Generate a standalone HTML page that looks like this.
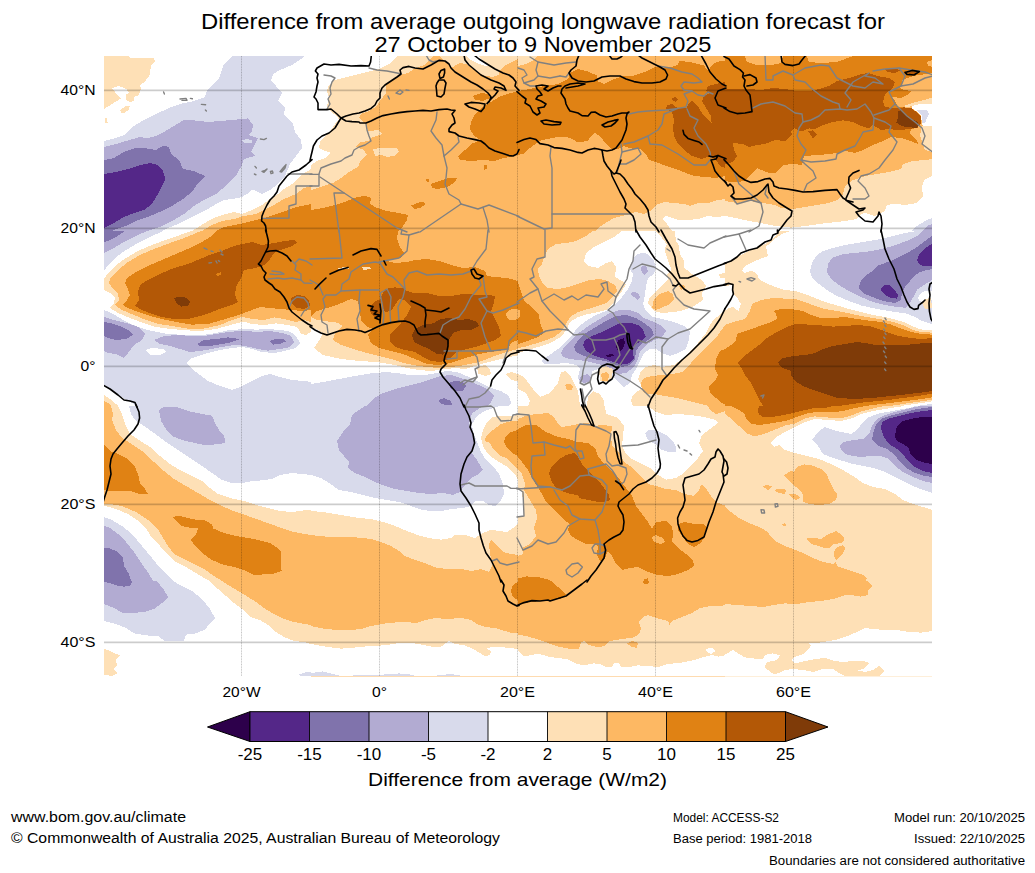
<!DOCTYPE html><html><head><meta charset="utf-8"><title>OLR anomaly forecast</title>
<style>
html,body{margin:0;padding:0;background:#fff;}
body{width:1035px;height:873px;overflow:hidden;position:relative;font-family:"Liberation Sans",sans-serif;}
svg{position:absolute;left:0;top:0;}
text{font-family:"Liberation Sans",sans-serif;fill:#000;}
</style></head><body>
<svg width="1035" height="873" viewBox="0 0 1035 873">
<defs><clipPath id="mapclip"><rect x="104" y="56" width="828" height="620.5"/></clipPath>
<clipPath id="t00"><rect x="-2" y="-2" width="1039" height="879"/></clipPath>
<clipPath id="t01"><rect x="-2" y="-2" width="1039" height="879"/></clipPath>
<clipPath id="t02"><rect x="-2" y="-2" width="1039" height="879"/></clipPath>
<clipPath id="t03"><rect x="-2" y="-2" width="1039" height="879"/></clipPath>
<clipPath id="t10"><rect x="-2" y="-2" width="1039" height="879"/></clipPath>
<clipPath id="t11"><rect x="-2" y="-2" width="1039" height="879"/></clipPath>
<clipPath id="t12"><rect x="-2" y="-2" width="1039" height="879"/></clipPath>
<clipPath id="t13"><rect x="-2" y="-2" width="1039" height="879"/></clipPath>
<clipPath id="t20"><rect x="-2" y="-2" width="1039" height="879"/></clipPath>
<clipPath id="t21"><rect x="-2" y="-2" width="1039" height="879"/></clipPath>
<clipPath id="t22"><rect x="-2" y="-2" width="1039" height="879"/></clipPath>
<clipPath id="t23"><rect x="-2" y="-2" width="1039" height="879"/></clipPath>
<clipPath id="t30"><rect x="-2" y="-2" width="1039" height="879"/></clipPath>
<clipPath id="t31"><rect x="-2" y="-2" width="1039" height="879"/></clipPath>
<clipPath id="t32"><rect x="-2" y="-2" width="1039" height="879"/></clipPath>
<clipPath id="t33"><rect x="-2" y="-2" width="1039" height="879"/></clipPath>
</defs>
<rect x="0" y="0" width="1035" height="873" fill="#ffffff"/>
<g clip-path="url(#mapclip)" shape-rendering="crispEdges">
<rect x="104" y="56" width="207" height="175" fill="#ffffff"/>
<rect x="311" y="56" width="207" height="175" fill="#fdb863"/>
<rect x="518" y="56" width="207" height="175" fill="#fdb863"/>
<rect x="725" y="56" width="207" height="175" fill="#fdb863"/>
<rect x="104" y="231" width="207" height="175" fill="#ffffff"/>
<rect x="311" y="231" width="207" height="175" fill="#fdb863"/>
<rect x="518" y="231" width="207" height="175" fill="#ffffff"/>
<rect x="725" y="231" width="207" height="175" fill="#ffffff"/>
<rect x="104" y="406" width="207" height="175" fill="#ffffff"/>
<rect x="311" y="406" width="207" height="175" fill="#ffffff"/>
<rect x="518" y="406" width="207" height="175" fill="#fdb863"/>
<rect x="725" y="406" width="207" height="175" fill="#fee0b6"/>
<rect x="104" y="581" width="207" height="175" fill="#ffffff"/>
<rect x="311" y="581" width="207" height="175" fill="#fdb863"/>
<rect x="518" y="581" width="207" height="175" fill="#fdb863"/>
<rect x="725" y="581" width="207" height="175" fill="#fee0b6"/>
<svg x="104" y="56" width="207" height="175" viewBox="0 0 1035 875" preserveAspectRatio="none" overflow="hidden">
<path d="M0 0 L125 0 L130 8 L250 10 L255 25 L235 50 L228 95 L205 128 L180 145 L185 165 L175 195 L150 205 L150 222 L128 232 L108 215 L108 195 L125 185 L112 165 L75 150 L40 160 L55 180 L85 212 L40 240 L0 265Z" fill="#fee0b6"/>
<path d="M82 270 L105 252 L128 252 L125 268 L100 287 L85 285Z" fill="#fee0b6"/>
<path d="M5 312 L15 312 L18 335 L8 338Z" fill="#fee0b6"/>
<path d="M0 425 L60 410 L100 395 L150 350 L200 320 L260 290 L330 258 L400 235 L450 225 L505 205 L515 175 L545 140 L575 110 L600 40 L640 0 L1000 0 L985 15 L940 45 L880 70 L845 90 L835 125 L860 150 L890 185 L870 225 L905 260 L900 290 L945 340 L955 380 L985 420 L990 460 L960 500 L930 540 L905 600 L870 640 L830 670 L790 690 L760 675 L740 668 L715 690 L690 705 L640 715 L600 720 L560 740 L520 765 L470 790 L420 815 L370 840 L320 860 L290 875 L0 875Z" fill="#d8daeb"/>
<path d="M0 455 L60 440 L110 425 L180 405 L215 412 L260 400 L300 380 L340 355 L400 320 L450 322 L520 330 L580 325 L640 320 L720 312 L745 345 L740 375 L720 395 L770 410 L750 450 L735 480 L755 500 L700 515 L690 545 L665 590 L620 640 L560 690 L500 720 L450 750 L400 790 L350 820 L290 850 L220 875 L0 875Z" fill="#b2abd2"/>
<path d="M692 422 L715 415 L742 422 L738 435 L705 437Z" fill="#d8daeb"/>
<path d="M0 520 L50 510 L100 480 L150 462 L200 460 L260 470 L295 448 L325 455 L335 490 L375 520 L395 565 L450 575 L505 600 L470 635 L440 680 L395 715 L340 750 L290 775 L230 800 L170 820 L120 845 L70 862 L40 875 L0 875Z" fill="#8073ac"/>
<path d="M0 590 L60 580 L120 565 L180 545 L230 535 L270 545 L295 575 L308 615 L290 650 L270 690 L240 740 L200 770 L150 785 L100 805 L50 835 L0 860Z" fill="#542788"/>
<path d="M440 875 L480 850 L520 825 L560 805 L610 790 L650 780 L690 790 L740 770 L790 745 L830 715 L870 690 L900 665 L940 640 L980 600 L1035 565 L1035 875Z" fill="#fee0b6"/>
<path d="M490 875 L540 845 L590 825 L650 815 L700 800 L760 790 L800 770 L850 745 L900 715 L960 690 L1000 660 L1035 650 L1035 875Z" fill="#fdb863"/>
<path d="M560 875 L600 855 L650 845 L700 835 L760 820 L800 810 L860 790 L920 770 L960 755 L1035 740 L1035 875Z" fill="#e08214"/>
</svg>
<svg x="311" y="56" width="207" height="175" viewBox="0 0 1035 875" preserveAspectRatio="none" overflow="hidden">
<path d="M0 0 L614 0 L606 9 L588 26 L571 43 L536 57 L514 65 L488 83 L454 93 L400 120 L375 150 L375 185 L345 225 L330 250 L290 275 L250 290 L240 310 L275 340 L285 375 L340 370 L355 390 L300 410 L290 425 L245 430 L225 455 L265 470 L280 495 L250 520 L235 555 L190 580 L150 610 L110 635 L60 650 L0 670Z" fill="#fee0b6"/>
<path d="M0 0 L430 0 L400 35 L340 65 L260 85 L180 105 L120 120 L90 145 L80 175 L90 210 L80 250 L95 275 L130 300 L140 318 L120 340 L100 370 L70 400 L45 430 L40 460 L70 475 L100 485 L70 510 L30 525 L0 545Z" fill="#ffffff"/>
<path d="M310 465 L370 458 L430 462 L440 480 L420 498 L385 505 L350 495 L320 500Z" fill="#fee0b6"/>
<path d="M645 0 L655 14 L677 30 L706 57 L728 43 L749 35 L779 41 L799 58 L833 81 L867 98 L907 105 L938 95 L944 74 L961 54 L982 41 L1009 27 L1035 14 L1035 0Z" fill="#fee0b6"/>
<path d="M779 0 L799 20 L826 34 L860 47 L887 51 L873 34 L853 14 L839 0Z" fill="#ffffff"/>
<path d="M1035 175 L1000 185 L950 200 L900 230 L860 255 L820 290 L800 330 L795 365 L815 400 L850 420 L800 440 L770 470 L735 500 L745 520 L800 525 L860 520 L920 525 L960 510 L1000 505 L1035 490Z" fill="#e08214"/>
<path d="M810 200 L850 185 L885 190 L895 210 L860 225 L820 218Z" fill="#e08214"/>
<path d="M862 548 L878 545 L882 565 L865 568Z" fill="#e08214"/>
<path d="M600 640 L640 625 L690 610 L730 612 L715 635 L680 655 L630 665 L605 658Z" fill="#e08214"/>
<path d="M575 618 L590 615 L592 628 L578 628Z" fill="#e08214"/>
<path d="M500 748 L530 735 L565 728 L570 745 L545 760 L515 765Z" fill="#e08214"/>
<path d="M0 770 L60 760 L120 745 L180 725 L230 705 L270 700 L300 710 L295 740 L330 760 L380 775 L440 785 L485 795 L480 820 L460 850 L440 875 L0 875Z" fill="#e08214"/>
</svg>
<svg x="518" y="56" width="207" height="175" viewBox="0 0 1035 875" preserveAspectRatio="none" overflow="hidden">
<path d="M0 0 L95 0 L80 20 L40 40 L0 50Z" fill="#fee0b6"/>
<path d="M1035 715 L1000 720 L950 735 L900 735 L860 750 L830 740 L780 735 L730 730 L690 745 L670 770 L630 790 L590 780 L540 795 L480 810 L430 840 L400 860 L385 875 L1035 875Z" fill="#fee0b6"/>
<path d="M1035 800 L990 805 L950 800 L900 815 L850 820 L800 820 L760 805 L735 800 L725 815 L745 840 L770 875 L1035 875Z" fill="#ffffff"/>
<path d="M0 175 L60 165 L130 150 L200 140 L250 115 L262 85 L300 65 L350 78 L395 98 L402 128 L430 140 L470 120 L520 103 L580 98 L640 78 L672 60 L700 52 L740 62 L800 45 L805 25 L860 30 L930 48 L950 75 L975 40 L1000 28 L1035 25 L1035 600 L990 610 L940 605 L880 600 L840 585 L790 565 L740 550 L690 530 L655 520 L640 490 L610 465 L560 462 L530 450 L500 465 L470 470 L440 440 L410 400 L385 385 L360 405 L350 425 L300 432 L270 415 L240 405 L200 405 L170 410 L120 420 L95 435 L60 460 L30 488 L0 495Z" fill="#e08214"/>
<path d="M740 262 L745 248 L770 240 L800 262 L845 262 L850 240 L870 225 L895 245 L920 285 L945 315 L968 335 L965 300 L940 260 L920 225 L930 200 L960 185 L940 175 L950 150 L990 140 L1035 130 L1035 560 L1010 550 L990 520 L960 500 L920 515 L870 500 L830 470 L800 440 L780 400 L775 360 L780 320 L770 280Z" fill="#b35806"/>
<path d="M768 215 L785 205 L800 215 L788 232Z" fill="#b35806"/>
</svg>
<svg x="725" y="56" width="207" height="175" viewBox="0 0 1035 875" preserveAspectRatio="none" overflow="hidden">
<path d="M0 725 L60 735 L120 725 L190 735 L250 745 L280 760 L340 765 L400 755 L460 745 L520 735 L560 720 L590 690 L600 650 L640 620 L700 600 L760 590 L820 580 L880 565 L890 540 L940 525 L1000 520 L1035 515 L1035 875 L0 875Z" fill="#fee0b6"/>
<path d="M0 800 L60 812 L120 825 L180 835 L250 850 L330 858 L400 850 L470 840 L540 832 L600 825 L660 815 L680 790 L700 785 L750 800 L800 775 L810 745 L850 738 L900 745 L960 735 L990 700 L985 655 L995 620 L1035 600 L1035 875 L0 875Z" fill="#ffffff"/>
<path d="M930 875 L960 850 L1000 825 L1035 810 L1035 875Z" fill="#d8daeb"/>
<path d="M985 875 L1010 850 L1035 840 L1035 875Z" fill="#b2abd2"/>
<path d="M1035 209 L972 226 L933 236 L895 250 L904 257 L938 250 L981 238 L1035 241Z" fill="#fee0b6"/>
<path d="M1035 241 L981 238 L938 250 L933 260 L962 279 L981 298 L984 337 L991 351 L1035 356Z" fill="#ffffff"/>
<path d="M957 270 L1010 272 L1020 289 L1010 308 L1000 337 L986 332 L984 298Z" fill="#d8daeb"/>
<path d="M985 348 L1035 352 L1035 480 L1000 470 L985 430 L975 395Z" fill="#fee0b6"/>
<path d="M0 0 L100 0 L110 30 L160 45 L230 45 L280 35 L290 0 L410 0 L420 30 L480 35 L560 30 L640 0 L1035 0 L1035 82 L1000 91 L962 96 L923 106 L887 120 L885 144 L875 159 L885 166 L933 176 L914 193 L875 212 L851 205 L832 207 L851 226 L866 255 L895 257 L933 262 L962 284 L981 303 L979 337 L962 359 L933 366 L923 385 L943 404 L962 425 L965 440 L930 425 L880 410 L830 405 L790 425 L740 445 L690 470 L650 485 L600 475 L560 485 L500 492 L440 497 L395 500 L385 545 L340 540 L290 545 L250 585 L210 582 L160 560 L130 590 L100 625 L40 632 L0 625Z" fill="#e08214"/>
<path d="M1010 29 L1035 20 L1035 53 L1015 50Z" fill="#fdb863"/>
<path d="M0 165 L60 165 L120 165 L180 170 L240 160 L300 165 L360 175 L420 175 L470 165 L520 150 L560 125 L620 110 L680 90 L720 85 L760 100 L820 110 L850 130 L840 160 L800 190 L790 230 L800 255 L860 262 L895 257 L933 262 L962 284 L981 303 L979 337 L962 359 L920 365 L870 372 L820 365 L780 370 L740 345 L720 362 L680 350 L640 330 L590 322 L540 330 L490 345 L450 365 L420 362 L380 378 L345 360 L330 375 L335 395 L300 425 L250 420 L200 440 L160 445 L120 455 L90 440 L40 435 L45 470 L60 500 L40 530 L0 540Z" fill="#b35806"/>
<path d="M415 375 L440 372 L460 390 L440 412Z" fill="#b35806"/>
<path d="M800 65 L840 60 L880 72 L850 85 L810 80Z" fill="#b35806"/>
<path d="M900 80 L935 72 L970 78 L940 95Z" fill="#b35806"/>
<path d="M866 274 L885 270 L895 289 L914 308 L933 318 L962 327 L969 347 L957 359 L914 356 L885 351 L856 332 L863 313Z" fill="#7f3b08"/>
</svg>
<svg x="104" y="231" width="207" height="175" viewBox="0 0 1035 875" preserveAspectRatio="none" overflow="hidden">
<path d="M0 0 L295 0 L230 30 L170 60 L110 95 L60 130 L20 170 L0 200Z" fill="#d8daeb"/>
<path d="M0 0 L215 0 L160 25 L100 55 L50 85 L0 110Z" fill="#b2abd2"/>
<path d="M0 0 L105 0 L60 30 L20 50 L0 55Z" fill="#8073ac"/>
<path d="M0 395 L40 412 L100 448 L160 476 L220 496 L300 512 L380 519 L440 518 L500 519 L560 510 L620 497 L700 490 L760 493 L820 491 L880 494 L930 503 L960 525 L980 560 L960 585 L900 600 L850 610 L790 605 L740 590 L690 580 L640 585 L580 595 L520 610 L470 625 L430 640 L415 660 L440 690 L480 720 L520 750 L580 775 L640 795 L680 780 L730 755 L790 725 L830 715 L880 730 L940 745 L1000 750 L1035 755 L1035 875 L0 875Z" fill="#d8daeb"/>
<path d="M205 595 L240 585 L300 590 L310 605 L280 620 L230 618Z" fill="#ffffff"/>
<path d="M0 775 L40 800 L90 830 L140 860 L160 875 L0 875Z" fill="#ffffff"/>
<path d="M0 820 L30 840 L60 865 L70 875 L0 875Z" fill="#fee0b6"/>
<path d="M0 850 L20 860 L35 875 L0 875Z" fill="#fdb863"/>
<path d="M0 430 L50 445 L110 460 L170 480 L205 515 L190 545 L150 570 L120 610 L100 635 L60 615 L20 610 L0 600Z" fill="#b2abd2"/>
<path d="M250 545 L300 525 L370 520 L440 525 L500 525 L560 515 L620 505 L700 498 L760 505 L830 500 L890 510 L935 525 L950 555 L930 580 L880 590 L820 598 L770 590 L720 578 L660 568 L600 578 L540 590 L480 600 L430 605 L380 590 L330 575 L280 565Z" fill="#b2abd2"/>
<path d="M0 455 L40 462 L90 480 L130 500 L145 520 L110 540 L60 545 L20 535 L0 525Z" fill="#8073ac"/>
<path d="M465 565 L500 545 L560 540 L620 532 L680 540 L640 555 L590 565 L530 575 L480 575Z" fill="#8073ac"/>
<path d="M830 550 L860 538 L900 540 L910 552 L880 565 L845 568Z" fill="#8073ac"/>
<path d="M435 0 L1035 0 L1035 505 L1010 520 L985 512 L965 480 L920 470 L860 462 L800 470 L740 465 L700 452 L640 468 L560 490 L480 500 L400 496 L320 488 L250 478 L190 458 L130 435 L70 410 L30 385 L50 360 L55 335 L30 310 L0 295 L0 240 L25 205 L60 170 L110 135 L170 100 L240 70 L320 40 L380 20Z" fill="#fee0b6"/>
<path d="M485 0 L1035 0 L1035 455 L1000 445 L960 455 L900 440 L850 432 L800 445 L740 440 L690 430 L640 445 L580 470 L500 488 L420 488 L340 475 L270 465 L210 445 L150 420 L90 395 L55 370 L75 345 L70 315 L45 290 L25 260 L35 230 L70 195 L120 155 L180 120 L250 90 L330 60 L400 35 L450 15Z" fill="#fdb863"/>
<path d="M560 0 L1035 0 L1035 395 L990 400 L940 395 L880 390 L830 385 L780 380 L740 395 L700 410 L640 430 L590 445 L520 465 L440 468 L360 455 L290 440 L230 425 L170 405 L120 385 L95 370 L115 345 L130 320 L120 290 L105 260 L115 235 L160 205 L220 175 L290 145 L360 115 L430 85 L490 55 L530 30Z" fill="#e08214"/>
<path d="M690 65 L740 55 L790 70 L850 60 L900 50 L950 45 L965 60 L930 80 L880 95 L850 110 L830 140 L800 170 L760 185 L700 195 L685 235 L660 280 L655 320 L670 355 L640 370 L590 385 L540 405 L480 425 L420 440 L350 440 L290 430 L240 415 L190 395 L155 375 L175 345 L170 300 L185 265 L230 240 L290 210 L350 185 L420 165 L480 140 L540 115 L600 95 L650 75Z" fill="#b35806"/>
<path d="M935 335 L965 320 L1000 325 L1025 345 L1030 375 L1000 390 L965 385 L940 365Z" fill="#b35806"/>
<path d="M350 335 L380 328 L415 335 L430 355 L420 375 L385 378 L365 362Z" fill="#7f3b08"/>
<path d="M560 215 L585 205 L588 220 L565 225Z" fill="#e08214"/>
</svg>
<svg x="311" y="231" width="207" height="175" viewBox="0 0 1035 875" preserveAspectRatio="none" overflow="hidden">
<path d="M0 430 L30 445 L80 452 L130 458 L160 475 L120 510 L110 545 L150 570 L210 590 L280 610 L340 625 L400 640 L460 660 L520 672 L580 680 L640 685 L700 680 L760 672 L820 660 L880 640 L930 620 L980 605 L1035 590 L1035 875 L0 875Z" fill="#fee0b6"/>
<path d="M0 478 L35 495 L60 512 L45 540 L15 585 L60 620 L150 640 L240 650 L330 655 L420 670 L480 685 L540 695 L600 700 L660 692 L720 685 L770 690 L820 675 L870 660 L920 648 L980 632 L1035 622 L1035 875 L0 875Z" fill="#ffffff"/>
<path d="M830 680 L870 670 L895 690 L900 715 L870 725 L835 712Z" fill="#fee0b6"/>
<path d="M975 715 L1000 705 L1035 715 L1035 752 L1000 745Z" fill="#fee0b6"/>
<path d="M0 765 L60 755 L140 740 L220 725 L300 712 L380 705 L440 712 L500 722 L560 722 L620 712 L680 700 L730 705 L790 730 L850 760 L900 785 L950 800 L990 825 L1000 860 L985 875 L0 875Z" fill="#d8daeb"/>
<path d="M275 875 L310 840 L360 810 L420 790 L480 775 L540 760 L600 740 L650 725 L700 720 L750 735 L800 755 L850 775 L890 795 L915 825 L900 855 L880 875Z" fill="#b2abd2"/>
<path d="M690 760 L720 748 L755 755 L775 775 L760 798 L725 800 L695 785Z" fill="#8073ac"/>
<path d="M640 845 L665 835 L700 850 L705 868 L670 870 L645 860Z" fill="#8073ac"/>
<path d="M0 0 L435 0 L430 40 L445 80 L465 110 L450 135 L400 140 L380 150 L420 160 L480 155 L520 145 L580 140 L640 150 L700 170 L760 185 L820 180 L870 200 L880 225 L920 230 L980 235 L1035 250 L1035 545 L1000 560 L985 590 L940 600 L890 605 L840 615 L790 630 L740 645 L690 662 L640 670 L580 665 L520 640 L460 615 L400 600 L340 585 L300 560 L285 520 L310 490 L280 480 L250 450 L245 400 L235 350 L200 340 L140 365 L80 385 L30 400 L0 425Z" fill="#e08214"/>
<path d="M975 410 L1000 392 L1035 390 L1035 440 L1000 448 L980 435Z" fill="#fdb863"/>
<path d="M135 185 L185 178 L190 188 L140 196Z" fill="#fee0b6"/>
<path d="M255 182 L295 178 L300 190 L262 195Z" fill="#fee0b6"/>
<path d="M370 290 L420 282 L460 285 L480 300 L520 312 L580 310 L640 325 L700 325 L760 315 L820 318 L880 318 L920 325 L915 360 L900 400 L920 440 L940 480 L950 525 L920 545 L880 560 L840 575 L780 590 L730 605 L690 640 L650 655 L600 650 L560 630 L520 605 L470 595 L420 580 L395 555 L395 520 L420 490 L450 460 L480 420 L500 380 L470 345 L440 340 L420 370 L400 400 L370 405 L355 370 L350 330Z" fill="#b35806"/>
<path d="M295 385 L320 350 L350 340 L352 400 L345 440 L315 430 L298 410Z" fill="#b35806"/>
<path d="M505 520 L520 490 L560 470 L610 462 L650 440 L690 435 L740 445 L790 440 L830 455 L840 475 L800 495 L750 495 L710 510 L690 545 L685 590 L660 618 L630 615 L590 590 L545 570 L515 555Z" fill="#7f3b08"/>
</svg>
<svg x="518" y="231" width="207" height="175" viewBox="0 0 1035 875" preserveAspectRatio="none" overflow="hidden">
<path d="M0 0 L520 0 L480 30 L430 55 L380 80 L340 110 L330 150 L350 175 L400 185 L440 160 L470 150 L490 180 L485 230 L520 250 L540 265 L520 300 L490 340 L470 370 L440 395 L400 405 L350 415 L300 430 L260 455 L245 490 L215 530 L160 560 L100 580 L40 598 L0 610Z" fill="#fee0b6"/>
<path d="M0 715 L30 730 L60 770 L90 810 L110 830 L160 810 L200 760 L215 705 L240 700 L265 730 L285 770 L300 800 L305 835 L310 875 L0 875Z" fill="#fee0b6"/>
<path d="M0 790 L40 810 L60 850 L50 875 L0 875Z" fill="#ffffff"/>
<path d="M345 875 L350 830 L375 800 L410 815 L430 850 L430 875Z" fill="#fee0b6"/>
<path d="M235 770 L255 762 L275 775 L270 795 L245 795Z" fill="#fdb863"/>
<path d="M650 360 L660 330 L690 300 L720 270 L750 240 L745 215 L768 195 L750 150 L732 95 L743 68 L716 28 L690 0 L784 0 L790 48 L804 75 L810 115 L830 150 L832 185 L870 215 L920 245 L940 275 L920 310 L925 345 L880 375 L830 395 L780 405 L720 410 L680 400Z" fill="#fee0b6"/>
<path d="M670 385 L680 340 L710 315 L750 300 L775 315 L780 345 L750 370 L715 385 L690 395Z" fill="#fdb863"/>
<path d="M805 275 L830 270 L838 285 L815 295Z" fill="#fdb863"/>
<path d="M1005 215 L1035 210 L1035 235 L1010 235Z" fill="#fee0b6"/>
<path d="M1035 390 L1010 420 L980 440 L960 470 L940 510 L900 560 L860 600 L820 640 L780 670 L720 680 L680 670 L640 680 L615 700 L600 740 L620 780 L600 800 L575 820 L565 850 L575 875 L1035 875Z" fill="#fee0b6"/>
<path d="M1035 470 L1000 520 L960 560 L920 600 L880 640 L850 680 L820 705 L770 715 L720 720 L670 725 L630 735 L615 760 L618 785 L632 812 L685 816 L739 826 L800 836 L867 853 L935 870 L950 875 L1035 875Z" fill="#fdb863"/>
<path d="M1035 590 L1010 600 L990 640 L985 690 L1000 720 L985 750 L955 775 L960 810 L990 835 L1020 860 L1035 868Z" fill="#e08214"/>
<path d="M0 0 L375 0 L340 25 L290 50 L240 60 L190 65 L150 90 L130 130 L120 165 L100 190 L105 225 L125 265 L150 285 L200 290 L250 280 L310 260 L360 245 L410 240 L450 250 L490 275 L495 300 L470 335 L440 360 L400 375 L350 390 L300 405 L260 430 L240 465 L215 505 L180 530 L130 550 L80 565 L30 580 L0 585Z" fill="#fdb863"/>
<path d="M0 255 L15 300 L30 350 L70 380 L105 420 L110 460 L130 510 L100 530 L60 545 L20 560 L0 565Z" fill="#e08214"/>
<path d="M0 392 L12 400 L10 425 L0 440Z" fill="#fdb863"/>
<path d="M555 185 L570 150 L590 120 L620 108 L650 115 L680 150 L690 180 L680 215 L650 235 L640 275 L635 320 L625 365 L640 400 L670 430 L720 440 L780 455 L830 475 L860 500 L855 545 L840 590 L800 610 L760 625 L720 610 L690 590 L660 590 L630 610 L610 650 L590 690 L570 720 L560 760 L530 780 L505 760 L480 730 L440 700 L400 690 L370 700 L365 740 L340 770 L310 760 L300 730 L310 690 L290 670 L240 660 L180 665 L130 665 L115 650 L150 625 L200 590 L230 560 L270 520 L300 480 L340 450 L390 420 L440 400 L480 370 L520 330 L550 290 L570 250 L575 215Z" fill="#d8daeb"/>
<path d="M580 330 L560 315 L575 305 L600 310 L610 330 L595 345Z" fill="#b2abd2"/>
<path d="M615 178 L640 175 L650 200 L635 220 L618 205Z" fill="#b2abd2"/>
<path d="M215 610 L230 580 L270 540 L310 505 L360 470 L410 440 L460 410 L510 395 L560 395 L600 410 L630 435 L680 455 L720 475 L740 500 L720 530 L680 545 L640 570 L610 600 L600 640 L580 680 L540 710 L500 715 L460 690 L420 670 L380 660 L340 650 L300 645 L260 640 L225 630Z" fill="#b2abd2"/>
<path d="M305 745 L315 725 L345 715 L365 730 L360 750 L330 760Z" fill="#b2abd2"/>
<path d="M280 580 L300 545 L340 510 L390 480 L440 450 L490 425 L540 420 L590 435 L630 460 L670 490 L680 520 L650 545 L610 570 L590 600 L585 640 L560 670 L520 680 L480 665 L440 650 L400 645 L360 635 L320 620 L290 605Z" fill="#8073ac"/>
<path d="M325 570 L335 545 L370 525 L420 505 L470 480 L510 460 L560 458 L600 470 L625 495 L640 530 L615 550 L580 575 L575 610 L580 640 L555 662 L515 668 L475 655 L440 640 L400 630 L365 615 L340 598Z" fill="#542788"/>
<path d="M500 545 L530 535 L535 560 L525 590 L505 605 L490 580Z" fill="#2d004b"/>
<path d="M435 620 L475 615 L480 625 L445 630Z" fill="#2d004b"/>
<path d="M405 690 L440 675 L475 690 L470 730 L450 755 L410 750Z" fill="#fee0b6"/>
<path d="M415 715 L440 705 L455 720 L450 748 L420 748Z" fill="#fdb863"/>
</svg>
<svg x="725" y="231" width="207" height="175" viewBox="0 0 1035 875" preserveAspectRatio="none" overflow="hidden">
<path d="M0 165 L60 130 L130 95 L200 65 L250 30 L270 0 L330 0 L290 12 L250 38 L228 62 L205 75 L215 125 L150 150 L100 175 L85 200 L100 210 L135 198 L160 215 L170 240 L200 258 L250 280 L300 295 L350 300 L400 315 L450 335 L500 355 L560 372 L620 390 L680 405 L740 420 L800 430 L850 442 L900 458 L940 478 L980 492 L1035 497 L1035 875 L0 875Z" fill="#fee0b6"/>
<path d="M0 275 L38 270 L42 315 L62 335 L80 365 L68 400 L40 380 L20 385 L0 398Z" fill="#ffffff"/>
<path d="M0 470 L40 455 L100 440 L125 400 L135 365 L180 345 L240 335 L300 338 L350 340 L400 355 L450 375 L500 390 L560 400 L620 412 L680 425 L740 435 L800 445 L850 458 L900 475 L940 495 L980 505 L1035 508 L1035 875 L0 875Z" fill="#fdb863"/>
<path d="M0 590 L30 570 L55 545 L60 515 L100 500 L160 480 L220 460 L262 440 L255 415 L240 400 L280 390 L340 392 L390 400 L430 420 L480 435 L540 435 L600 430 L660 440 L720 448 L780 455 L830 468 L880 488 L930 505 L980 515 L1035 518 L1035 875 L0 875Z" fill="#e08214"/>
<path d="M65 660 L90 630 L130 600 L170 570 L210 535 L260 505 L310 480 L350 465 L420 468 L480 472 L540 478 L600 475 L660 470 L720 475 L770 490 L820 510 L870 525 L930 535 L980 540 L1035 535 L1035 813 L957 826 L825 844 L695 857 L565 875 L190 875 L170 840 L150 800 L130 760 L100 720 L85 690Z" fill="#b35806"/>
<path d="M265 655 L290 635 L340 625 L400 620 L450 610 L490 590 L540 575 L600 565 L660 555 L700 560 L750 570 L800 572 L860 570 L920 568 L980 562 L1035 558 L1035 800 L980 808 L920 815 L860 822 L800 828 L740 835 L680 838 L620 838 L560 835 L500 815 L440 795 L390 775 L350 750 L330 720 L330 700 L300 690 L275 675Z" fill="#7f3b08"/>
<path d="M1035 832 L955 844 L825 860 L700 875 L1035 875Z" fill="#fdb863"/>
<path d="M1035 844 L955 855 L825 875 L1035 875Z" fill="#fee0b6"/>
<path d="M1035 852 L955 864 L875 875 L1035 875Z" fill="#ffffff"/>
<path d="M1035 864 L955 875 L1035 875Z" fill="#d8daeb"/>
<path d="M1035 0 L960 0 L900 10 L840 25 L780 40 L720 50 L660 60 L600 70 L540 85 L490 100 L455 125 L435 160 L425 200 L435 235 L470 265 L510 295 L560 325 L620 350 L680 372 L740 386 L800 397 L860 406 L904 412 L950 430 L985 450 L1035 465Z" fill="#d8daeb"/>
<path d="M967 330 L985 305 L1015 298 L1035 300 L1035 345 L1010 352 L985 355 L968 345Z" fill="#ffffff"/>
<path d="M985 360 L1000 340 L1030 335 L1035 385 L1000 390Z" fill="#fee0b6"/>
<path d="M1035 0 L990 0 L960 25 L920 45 L880 60 L820 80 L760 95 L700 105 L640 110 L580 118 L535 135 L515 165 L510 205 L530 240 L570 270 L620 300 L680 330 L740 355 L800 370 L850 378 L904 384 L927 355 L944 326 L961 292 L996 269 L1035 246Z" fill="#b2abd2"/>
<path d="M1035 25 L1000 50 L960 80 L920 105 L880 125 L840 145 L800 160 L760 175 L730 205 L700 225 L680 250 L668 285 L700 315 L750 335 L800 352 L850 360 L880 345 L885 310 L900 280 L925 250 L945 225 L975 205 L1010 195 L1035 190Z" fill="#8073ac"/>
<path d="M1035 65 L1000 85 L975 110 L960 145 L975 170 L1010 178 L1035 172Z" fill="#542788"/>
<path d="M780 285 L800 268 L825 272 L850 295 L865 320 L860 338 L830 335 L800 320 L782 302Z" fill="#542788"/>
</svg>
<svg x="104" y="406" width="207" height="175" viewBox="0 0 1035 875" preserveAspectRatio="none" overflow="hidden">
<path d="M125 0 L1035 0 L1035 345 L990 340 L940 335 L880 345 L840 365 L790 372 L740 375 L690 385 L640 385 L590 370 L540 335 L490 300 L430 260 L370 220 L310 180 L250 135 L200 100 L160 75 L135 40Z" fill="#d8daeb"/>
<path d="M275 20 L300 5 L360 5 L420 25 L480 38 L540 48 L555 85 L575 120 L600 150 L608 185 L560 192 L500 195 L440 182 L390 170 L340 150 L310 115 L285 75Z" fill="#b2abd2"/>
<path d="M0 0 L70 0 L90 40 L105 90 L130 140 L175 170 L230 205 L280 250 L330 290 L380 320 L430 345 L490 375 L530 410 L570 440 L630 460 L700 475 L760 495 L820 510 L880 525 L940 530 L1000 522 L1035 520 L1035 875 L530 875 L500 860 L460 835 L410 805 L360 780 L320 745 L280 700 L240 660 L215 620 L180 580 L120 540 L60 515 L0 498Z" fill="#fee0b6"/>
<path d="M0 0 L35 0 L45 40 L40 70 L60 120 L90 160 L130 185 L190 225 L250 280 L300 325 L350 365 L410 400 L470 435 L530 470 L600 505 L660 530 L720 550 L790 575 L860 600 L930 625 L1000 640 L1035 645 L1035 875 L590 875 L550 850 L500 815 L450 790 L400 765 L350 740 L320 700 L290 650 L265 610 L220 570 L160 530 L90 500 L30 490 L0 488Z" fill="#fdb863"/>
<path d="M0 195 L30 225 L70 240 L110 260 L150 295 L170 340 L180 385 L205 415 L220 440 L180 440 L130 425 L80 425 L30 425 L0 420Z" fill="#e08214"/>
<path d="M345 555 L375 548 L420 560 L465 570 L500 570 L540 592 L545 612 L600 635 L660 650 L720 660 L780 672 L830 685 L860 705 L885 725 L885 780 L888 825 L850 838 L800 842 L750 845 L700 820 L650 805 L600 795 L540 770 L490 735 L455 700 L435 670 L460 640 L470 612 L430 608 L385 600 L360 575Z" fill="#e08214"/>
<path d="M0 555 L40 570 L90 600 L140 640 L190 700 L240 760 L280 810 L320 850 L345 875 L0 875Z" fill="#d8daeb"/>
<path d="M0 600 L30 610 L70 640 L110 680 L150 730 L190 790 L225 840 L245 875 L0 875Z" fill="#b2abd2"/>
<path d="M0 710 L30 712 L70 730 L95 760 L100 800 L125 840 L135 875 L0 875Z" fill="#8073ac"/>
</svg>
<svg x="311" y="406" width="207" height="175" viewBox="0 0 1035 875" preserveAspectRatio="none" overflow="hidden">
<path d="M0 0 L943 0 L866 25 L827 54 L805 90 L810 130 L830 180 L850 230 L875 270 L910 300 L940 340 L960 390 L965 440 L950 470 L920 500 L890 495 L860 475 L820 475 L800 500 L760 510 L700 515 L650 525 L600 525 L550 518 L500 500 L440 480 L380 470 L320 460 L260 445 L200 430 L140 420 L90 385 L50 360 L0 345Z" fill="#d8daeb"/>
<path d="M270 0 L860 0 L846 10 L808 34 L795 63 L790 100 L810 140 L818 190 L800 230 L830 270 L860 320 L830 345 L800 360 L770 395 L745 430 L710 445 L660 435 L600 440 L540 435 L480 425 L420 415 L370 400 L320 380 L270 355 L220 335 L185 310 L190 280 L165 250 L140 220 L130 175 L160 130 L195 90 L205 45 L240 20Z" fill="#b2abd2"/>
<path d="M0 525 L60 530 L120 540 L180 550 L240 560 L300 565 L360 580 L420 600 L480 625 L540 648 L600 662 L650 668 L700 660 L720 645 L770 645 L820 660 L860 635 L900 618 L940 625 L980 630 L1010 610 L1035 590 L1035 875 L0 875Z" fill="#fee0b6"/>
<path d="M0 645 L60 652 L120 655 L180 655 L240 658 L300 665 L350 680 L400 700 L440 725 L470 750 L520 770 L580 790 L630 810 L690 815 L750 815 L800 825 L850 815 L890 830 L910 790 L895 740 L890 690 L900 670 L930 700 L960 730 L1000 740 L1035 745 L1035 875 L0 875Z" fill="#fdb863"/>
<path d="M1035 45 L1000 50 L950 48 L910 55 L880 80 L860 120 L850 160 L860 200 L880 235 L910 260 L940 280 L975 300 L1000 320 L1025 350 L1035 370Z" fill="#fee0b6"/>
<path d="M1035 75 L990 78 L950 90 L910 120 L875 150 L870 175 L895 185 L910 215 L940 245 L975 260 L1005 290 L1035 320Z" fill="#fdb863"/>
<path d="M1035 120 L1000 130 L975 150 L965 180 L980 210 L1005 235 L1035 250Z" fill="#e08214"/>
</svg>
<svg x="518" y="406" width="207" height="175" viewBox="0 0 1035 875" preserveAspectRatio="none" overflow="hidden">
<path d="M0 0 L1035 0 L1035 498 L990 480 L965 450 L935 405 L915 392 L905 420 L880 450 L830 440 L790 420 L740 415 L690 400 L650 390 L620 360 L590 330 L560 300 L530 280 L510 240 L470 200 L465 150 L470 100 L420 95 L380 100 L350 85 L300 90 L250 100 L220 105 L200 90 L180 55 L150 35 L100 40 L50 45 L0 65Z" fill="#fee0b6"/>
<path d="M950 0 L1035 0 L1035 25 L990 40 L960 20Z" fill="#fdb863"/>
<path d="M435 0 L650 0 L690 30 L740 45 L800 40 L860 45 L930 55 L990 70 L1000 85 L960 115 L920 145 L905 185 L925 225 L900 260 L860 300 L830 335 L790 360 L740 368 L700 345 L660 310 L620 290 L570 265 L540 240 L520 200 L525 150 L530 100 L500 60 L440 40Z" fill="#ffffff"/>
<path d="M635 135 L655 118 L700 125 L740 145 L775 175 L790 205 L790 228 L750 230 L710 215 L685 190 L650 170Z" fill="#d8daeb"/>
<path d="M0 320 L20 340 L35 390 L30 420 L60 470 L90 520 L95 560 L80 610 L90 650 L60 690 L20 710 L25 740 L0 750Z" fill="#fee0b6"/>
<path d="M0 420 L20 425 L25 480 L30 550 L0 555Z" fill="#ffffff"/>
<path d="M0 115 L40 95 L90 95 L140 130 L200 155 L250 165 L300 180 L350 185 L385 210 L400 250 L430 290 L470 330 L510 370 L540 410 L570 450 L590 500 L620 540 L650 580 L670 615 L690 580 L740 575 L770 600 L775 640 L770 680 L800 710 L840 740 L875 770 L880 800 L850 820 L800 840 L750 850 L700 845 L650 830 L600 805 L560 810 L520 820 L490 790 L470 750 L450 725 L430 770 L410 775 L395 745 L400 700 L380 690 L340 690 L300 670 L265 650 L250 620 L260 590 L230 570 L200 540 L170 510 L140 480 L120 440 L95 400 L70 360 L50 320 L20 280 L0 260Z" fill="#e08214"/>
<path d="M668 655 L690 645 L725 660 L735 680 L715 690 L680 680Z" fill="#fdb863"/>
<path d="M800 590 L830 580 L880 590 L930 592 L945 610 L935 650 L915 685 L880 705 L850 690 L820 650 L800 620Z" fill="#e08214"/>
<path d="M0 862 L40 852 L100 855 L150 868 L165 875 L0 875Z" fill="#e08214"/>
<path d="M630 865 L650 862 L652 875 L630 875Z" fill="#e08214"/>
<path d="M155 335 L170 300 L200 270 L240 245 L280 235 L300 255 L320 290 L345 320 L370 345 L400 370 L430 410 L455 445 L460 470 L430 480 L390 478 L350 470 L310 462 L300 445 L260 440 L220 425 L190 410 L170 380Z" fill="#b35806"/>
</svg>
<svg x="725" y="406" width="207" height="175" viewBox="0 0 1035 875" preserveAspectRatio="none" overflow="hidden">
<path d="M225 185 L250 160 L290 135 L340 110 L400 80 L450 65 L520 70 L580 75 L640 60 L680 40 L740 25 L800 15 L860 5 L900 0 L1035 0 L1035 520 L990 505 L940 490 L890 470 L850 440 L800 415 L740 405 L690 385 L640 350 L590 320 L530 290 L470 265 L410 250 L350 235 L300 220 L270 195 L245 205Z" fill="#ffffff"/>
<path d="M435 170 L470 125 L500 105 L540 120 L580 130 L630 140 L660 120 L690 80 L710 60 L760 40 L820 28 L890 15 L930 8 L955 0 L1035 0 L1035 435 L990 420 L940 400 L890 375 L840 350 L790 325 L740 310 L690 300 L640 290 L590 275 L540 260 L490 240 L465 200Z" fill="#d8daeb"/>
<path d="M575 200 L590 180 L640 170 L690 165 L720 140 L735 100 L760 65 L800 45 L850 30 L920 12 L980 0 L1035 0 L1035 385 L990 375 L940 355 L890 330 L850 300 L820 265 L780 250 L730 250 L680 255 L640 250 L600 240 L580 220Z" fill="#b2abd2"/>
<path d="M735 170 L745 120 L760 85 L790 60 L840 45 L900 30 L960 15 L1035 5 L1035 355 L990 348 L940 330 L900 305 L870 275 L850 245 L810 215 L770 200Z" fill="#8073ac"/>
<path d="M780 110 L785 80 L820 62 L870 50 L930 35 L990 25 L1035 20 L1035 335 L990 325 L950 305 L915 275 L890 240 L860 215 L820 190 L795 155Z" fill="#542788"/>
<path d="M850 150 L860 100 L890 75 L940 62 L990 55 L1035 55 L1035 290 L1000 285 L960 270 L930 245 L915 205 L880 185 L855 170Z" fill="#2d004b"/>
<path d="M0 0 L800 0 L740 12 L680 28 L630 48 L580 62 L520 58 L450 52 L400 62 L350 88 L300 98 L250 118 L200 138 L150 152 L110 138 L70 100 L30 62 L0 40Z" fill="#fdb863"/>
<path d="M30 0 L700 0 L650 10 L590 25 L540 32 L480 28 L420 35 L370 50 L320 70 L270 80 L220 88 L170 95 L130 88 L105 65 L100 40 L70 20Z" fill="#e08214"/>
<path d="M170 0 L540 0 L500 10 L440 12 L380 25 L330 38 L280 48 L230 55 L190 55 L168 40 L165 20Z" fill="#b35806"/>
<path d="M295 345 L330 325 L345 330 L360 305 L395 292 L440 298 L480 315 L510 345 L525 380 L545 420 L562 440 L555 470 L520 490 L470 495 L420 490 L390 478 L388 440 L370 415 L340 395 L315 370Z" fill="#fdb863"/>
<path d="M185 400 L210 395 L235 402 L215 420Z" fill="#fdb863"/>
<path d="M245 420 L275 414 L305 418 L300 440 L270 435Z" fill="#fdb863"/>
<path d="M320 440 L350 438 L378 458 L355 472 L335 460Z" fill="#fdb863"/>
<path d="M285 590 L300 585 L308 597 L290 600Z" fill="#fdb863"/>
<path d="M408 662 L440 658 L480 665 L510 645 L555 625 L580 640 L598 665 L585 685 L545 690 L520 710 L500 712 L470 700 L430 690Z" fill="#fdb863"/>
<path d="M545 730 L560 705 L590 695 L602 710 L590 735 L570 755 L555 770 L545 750Z" fill="#fdb863"/>
<path d="M0 505 L30 530 L70 560 L120 585 L170 605 L215 630 L230 655 L260 680 L300 700 L340 715 L390 735 L440 760 L490 780 L540 790 L555 775 L560 800 L600 815 L650 830 L690 845 L710 860 L705 875 L0 875Z" fill="#fdb863"/>
</svg>
<svg x="104" y="581" width="207" height="175" viewBox="0 0 1035 875" preserveAspectRatio="none" overflow="hidden">
<path d="M0 0 L345 0 L390 25 L440 50 L490 90 L530 140 L555 185 L525 215 L510 240 L460 262 L410 268 L400 298 L350 302 L300 298 L270 275 L210 272 L150 262 L110 235 L60 215 L0 200Z" fill="#d8daeb"/>
<path d="M0 0 L265 0 L300 45 L320 80 L290 110 L250 140 L200 155 L140 160 L90 158 L50 135 L0 115Z" fill="#b2abd2"/>
<path d="M0 0 L140 0 L135 22 L100 28 L60 22 L30 10 L0 5Z" fill="#8073ac"/>
<path d="M528 0 L1035 0 L1035 315 L1000 305 L950 300 L900 280 L860 255 L820 220 L780 195 L730 180 L690 140 L650 110 L610 75 L570 40Z" fill="#fee0b6"/>
<path d="M590 0 L1035 0 L1035 220 L1000 215 L950 205 L900 190 L850 165 L800 135 L760 105 L720 80 L680 55 L640 32Z" fill="#fdb863"/>
<path d="M0 340 L30 350 L78 372 L60 395 L65 420 L50 440 L68 462 L40 475 L0 468Z" fill="#fee0b6"/>
<path d="M975 468 L1000 458 L1035 455 L1035 475 L980 475Z" fill="#d8daeb"/>
</svg>
<svg x="311" y="581" width="207" height="175" viewBox="0 0 1035 875" preserveAspectRatio="none" overflow="hidden">
<path d="M0 225 L60 238 L130 245 L200 245 L250 240 L300 225 L350 215 L410 208 L470 205 L530 210 L570 195 L620 185 L680 190 L750 185 L800 195 L830 215 L870 230 L920 235 L970 250 L1010 262 L1035 262 L1035 475 L0 475Z" fill="#fee0b6"/>
<path d="M0 315 L50 325 L100 332 L150 338 L200 335 L260 328 L320 325 L380 320 L430 312 L490 308 L540 315 L600 328 L650 328 L690 300 L720 315 L770 322 L820 345 L870 375 L895 370 L900 350 L875 335 L930 328 L990 335 L1035 340 L1035 475 L0 475Z" fill="#ffffff"/>
<path d="M0 460 L60 452 L100 462 L150 475 L0 475Z" fill="#d8daeb"/>
<path d="M200 475 L230 468 L330 470 L440 462 L500 468 L520 475Z" fill="#d8daeb"/>
<path d="M610 475 L650 470 L700 465 L760 475Z" fill="#d8daeb"/>
<path d="M1035 5 L1010 20 L1000 50 L1010 80 L1035 95Z" fill="#e08214"/>
</svg>
<svg x="518" y="581" width="207" height="175" viewBox="0 0 1035 875" preserveAspectRatio="none" overflow="hidden">
<path d="M0 268 L50 278 L100 292 L150 310 L200 328 L260 340 L305 338 L315 308 L330 300 L355 320 L400 332 L430 325 L460 300 L520 290 L580 282 L610 260 L615 235 L605 205 L625 180 L650 170 L690 185 L730 195 L750 200 L758 220 L770 200 L820 180 L870 160 L910 135 L960 125 L1010 125 L1035 120 L1035 475 L0 475Z" fill="#fee0b6"/>
<path d="M0 345 L30 378 L60 372 L100 362 L150 378 L200 385 L250 392 L290 412 L330 422 L380 412 L410 415 L440 430 L470 428 L480 410 L505 410 L515 430 L560 430 L600 422 L650 425 L700 430 L750 415 L820 408 L880 395 L930 380 L970 370 L1000 378 L1035 372 L1035 475 L0 475Z" fill="#ffffff"/>
<path d="M940 340 L965 332 L990 350 L965 365 L945 355Z" fill="#ffffff"/>
<path d="M545 312 L570 300 L600 310 L595 335 L565 328Z" fill="#fdb863"/>
<path d="M0 0 L165 0 L200 30 L240 65 L225 85 L180 95 L120 100 L60 105 L0 120Z" fill="#e08214"/>
<path d="M625 0 L655 0 L652 15 L630 15Z" fill="#e08214"/>
</svg>
<svg x="725" y="581" width="207" height="175" viewBox="0 0 1035 875" preserveAspectRatio="none" overflow="hidden">
<path d="M0 0 L710 0 L738 25 L715 45 L715 70 L680 78 L640 72 L600 70 L540 90 L480 100 L420 105 L360 115 L300 112 L240 120 L190 130 L130 125 L60 120 L0 115Z" fill="#fdb863"/>
<path d="M0 368 L40 345 L70 365 L100 382 L150 388 L190 388 L200 370 L240 362 L275 372 L260 395 L210 405 L198 430 L230 458 L250 468 L300 445 L340 440 L390 445 L440 455 L490 440 L540 440 L570 460 L600 475 L0 475Z" fill="#ffffff"/>
<path d="M430 322 L420 310 L470 308 L520 300 L570 290 L620 272 L660 255 L700 235 L740 240 L800 245 L860 245 L920 255 L980 258 L1035 250 L1035 475 L770 475 L795 450 L770 425 L740 445 L700 455 L665 448 L700 435 L720 410 L690 400 L640 400 L590 405 L540 398 L500 385 L450 390 L400 400 L350 412 L335 395 L345 380 L390 365 L420 340Z" fill="#ffffff"/>
</svg>
</g>
<g clip-path="url(#mapclip)" shape-rendering="crispEdges">
</g>
<g clip-path="url(#mapclip)">
<line x1="241.5" y1="56" x2="241.5" y2="676" stroke="#000" stroke-opacity="0.45" stroke-width="0.5" stroke-dasharray="1 0.6"/>
<line x1="379.5" y1="56" x2="379.5" y2="676" stroke="#000" stroke-opacity="0.45" stroke-width="0.5" stroke-dasharray="1 0.6"/>
<line x1="517.5" y1="56" x2="517.5" y2="676" stroke="#000" stroke-opacity="0.45" stroke-width="0.5" stroke-dasharray="1 0.6"/>
<line x1="655.5" y1="56" x2="655.5" y2="676" stroke="#000" stroke-opacity="0.45" stroke-width="0.5" stroke-dasharray="1 0.6"/>
<line x1="793.5" y1="56" x2="793.5" y2="676" stroke="#000" stroke-opacity="0.45" stroke-width="0.5" stroke-dasharray="1 0.6"/>
<line x1="104" y1="90.3" x2="932" y2="90.3" stroke="#000" stroke-opacity="0.2" stroke-width="1.8"/>
<line x1="104" y1="228.3" x2="932" y2="228.3" stroke="#000" stroke-opacity="0.2" stroke-width="1.8"/>
<line x1="104" y1="366.3" x2="932" y2="366.3" stroke="#000" stroke-opacity="0.2" stroke-width="1.8"/>
<line x1="104" y1="504.3" x2="932" y2="504.3" stroke="#000" stroke-opacity="0.2" stroke-width="1.8"/>
<line x1="104" y1="642.3" x2="932" y2="642.3" stroke="#000" stroke-opacity="0.2" stroke-width="1.8"/>
</g>
<g clip-path="url(#mapclip)" fill="none" stroke-linejoin="round" stroke-linecap="round">
<path d="M288 174 L312 174" stroke="#808080" stroke-width="1.4"/>
<path d="M312 186 L296 186 L296 204 L289 206 L289 218 L263 218.4" stroke="#808080" stroke-width="1.4"/>
<path d="M255 166.4 L256.4 168" stroke="#808080" stroke-width="1.4"/>
<path d="M254.4 174 L256 174.8" stroke="#808080" stroke-width="1.4"/>
<path d="M262 171.4 L265 170.4 L267 169 L264 172.4 L262 171.4" stroke="#808080" stroke-width="1.4"/>
<path d="M270.4 171.4 L272.4 171 L273 173 L271 173.6 L270.4 171.4" stroke="#808080" stroke-width="1.4"/>
<path d="M280 171.6 L283 168 L286 164.6 L285 168 L281.6 172 L280 171.6" stroke="#808080" stroke-width="1.4"/>
<path d="M180 99 L186 98.4 L187 100.4 L182 100.4" stroke="#808080" stroke-width="1.4"/>
<path d="M190.4 98.4 L192.4 98.8" stroke="#808080" stroke-width="1.4"/>
<path d="M201.4 104.4 L205.6 104.8" stroke="#808080" stroke-width="1.4"/>
<path d="M205.4 110 L206.4 111" stroke="#808080" stroke-width="1.4"/>
<path d="M260.4 139 L264 139.6 L266.4 138.4" stroke="#808080" stroke-width="1.4"/>
<path d="M163.6 92 L164.4 94" stroke="#808080" stroke-width="1.4"/>
<path d="M324 75 L331 76 L335 78 L332 82 L330 88 L331 94 L328 99 L330 104 L327 109" stroke="#808080" stroke-width="1.4"/>
<path d="M369 68 L377 70 L387 71 L397 73 L401 74" stroke="#808080" stroke-width="1.4"/>
<path d="M426 55 L429 60 L433 62 L439 60.4" stroke="#808080" stroke-width="1.4"/>
<path d="M366 124 L367 130 L369 136 L371 141 L365 145 L359 147 L354 150 L352 155 L345 158 L341 161 L331 164 L321 168 L319 174" stroke="#808080" stroke-width="1.4"/>
<path d="M310 174.4 L319 174.4 L319 186 L310 186" stroke="#808080" stroke-width="1.4"/>
<path d="M320 177 L397 228 L407 232" stroke="#808080" stroke-width="1.4"/>
<path d="M339 232 L334 193 L344 193" stroke="#808080" stroke-width="1.4"/>
<path d="M437 112 L436 120 L431 131 L436 138 L442 145 L444 156 L451 150 L459 142 L458 137" stroke="#808080" stroke-width="1.4"/>
<path d="M444 156 L447 168 L446 178 L445 184 L449 194 L459 200 L461 204 L478 209 L489 205 L519 216.4" stroke="#808080" stroke-width="1.4"/>
<path d="M461 204 L420 232" stroke="#808080" stroke-width="1.4"/>
<path d="M483 207.4 L487 220 L489 232" stroke="#808080" stroke-width="1.4"/>
<path d="M396 93 L400 90 L403 92 L400 94.4 L396 93" stroke="#808080" stroke-width="1.4"/>
<path d="M388 96 L389.4 99" stroke="#808080" stroke-width="1.4"/>
<path d="M406 90 L409 90.4" stroke="#808080" stroke-width="1.4"/>
<path d="M551 147 L550 156 L552 168 L552 228 L544 229 L517 216" stroke="#808080" stroke-width="1.4"/>
<path d="M552 214 L630 214" stroke="#808080" stroke-width="1.4"/>
<path d="M621 144 L622 152 L619 164 L617 173" stroke="#808080" stroke-width="1.4"/>
<path d="M622 152 L630 150 L638 148 L641 154 L634 160 L626 164 L620 164" stroke="#808080" stroke-width="1.4"/>
<path d="M629 114 L638 112 L648 111 L666 110 L678 108.4 L664 114 L662 124 L658 130 L648 136 L634 142 L624 144" stroke="#808080" stroke-width="1.4"/>
<path d="M648 136 L650 144 L662 145 L678 154 L694 165 L706 165 L710 160" stroke="#808080" stroke-width="1.4"/>
<path d="M687 109 L690 116 L698 120 L694 128 L698 136 L706 144 L710 152 L711 158" stroke="#808080" stroke-width="1.4"/>
<path d="M678 108.4 L686 107 L688 101 L684 94 L692 91 L698 95 L704 96 L708 92 L713 94" stroke="#808080" stroke-width="1.4"/>
<path d="M658 66 L670 68 L682 72 L692 74 L698 78 L702 82 L694 83 L684 82 L681 86 L684 90 L692 91" stroke="#808080" stroke-width="1.4"/>
<path d="M560 76 L566 77 L569 73" stroke="#808080" stroke-width="1.4"/>
<path d="M538 62 L554 65 L566 63 L576 62" stroke="#808080" stroke-width="1.4"/>
<path d="M518 68 L524 70 L527 75 L522 78 L524 83 L534 80 L538 76 L536 70 L538 62 L530 57" stroke="#808080" stroke-width="1.4"/>
<path d="M538 76 L550 78 L560 76" stroke="#808080" stroke-width="1.4"/>
<path d="M524 83 L530 86 L536 86" stroke="#808080" stroke-width="1.4"/>
<path d="M752 108.4 L761 104 L773 102 L785 106 L795 113 L802 114 L803 122" stroke="#808080" stroke-width="1.4"/>
<path d="M765 55 L766 80 L773 80 L773 76 L783 71 L793 75 L795 80 L805 82 L811 88 L821 96 L833 102 L839 104 L840 109" stroke="#808080" stroke-width="1.4"/>
<path d="M803 122 L799 128 L797 136 L801 144 L806 150 L801 160 L811 162 L825 161 L836 159 L837 154 L845 150 L855 146 L861 136 L863 132 L873 130 L874 118 L871 112 L865 104 L857 109 L847 110 L840 109 L825 110 L819 116 L811 120 L803 122" stroke="#808080" stroke-width="1.4"/>
<path d="M801 160 L805 164 L813 171 L816 178 L807 184 L804 191" stroke="#808080" stroke-width="1.4"/>
<path d="M874 118 L885 122 L891 126 L889 132 L897 142 L893 150 L885 160 L879 168 L869 174 L861 176 L858 181 L865 188 L869 196 L865 199 L853 199" stroke="#808080" stroke-width="1.4"/>
<path d="M793 75 L805 68 L821 65 L829 66 L833 72 L837 78 L845 82 L853 86 L865 88 L873 82 L883 84 L875 78 L865 76 L869 73 L853 82 L845 93 L851 100 L847 107" stroke="#808080" stroke-width="1.4"/>
<path d="M873 71 L885 69 L899 68 L905 76 L901 86 L889 92 L895 104 L889 110 L874 115" stroke="#808080" stroke-width="1.4"/>
<path d="M895 104 L901 110 L907 116 L915 122 L922 128 L925 136 L922 144 L933 152.4" stroke="#808080" stroke-width="1.4"/>
<path d="M899 68 L911 70 L925 72 L933 75" stroke="#808080" stroke-width="1.4"/>
<path d="M901 86 L913 84 L925 78 L933 76" stroke="#808080" stroke-width="1.4"/>
<path d="M734 171 L739 184 L761 203 L763 212 L759 226 L749 232" stroke="#808080" stroke-width="1.4"/>
<path d="M761 203 L751 200 L737 204 L731 196" stroke="#808080" stroke-width="1.4"/>
<path d="M767 185 L765 194 L768 198" stroke="#808080" stroke-width="1.4"/>
<path d="M272 271 L280 272 L284 274 L276 274.6 L270 274" stroke="#808080" stroke-width="1.4"/>
<path d="M268 279 L278 278 L284 279 L292 278 L301 280 L304 283 L312 283.4" stroke="#808080" stroke-width="1.4"/>
<path d="M292 261 L296 265 L295 270 L301 274 L301 280" stroke="#808080" stroke-width="1.4"/>
<path d="M289 308 L292 301 L297 297 L304 298 L308 303 L309 308 L304 311 L301 316" stroke="#808080" stroke-width="1.4"/>
<path d="M312 265 L306 261 L299 259 L295 263" stroke="#808080" stroke-width="1.4"/>
<path d="M204 248 L207 249.4" stroke="#808080" stroke-width="1.4"/>
<path d="M211 251 L213 251.6" stroke="#808080" stroke-width="1.4"/>
<path d="M220 250 L222 252" stroke="#808080" stroke-width="1.4"/>
<path d="M221 254 L223 255" stroke="#808080" stroke-width="1.4"/>
<path d="M209 263 L211.6 262.6" stroke="#808080" stroke-width="1.4"/>
<path d="M216 261 L217 263" stroke="#808080" stroke-width="1.4"/>
<path d="M218.4 260.6 L219.6 261.4" stroke="#808080" stroke-width="1.4"/>
<path d="M359 331 L357 319 L360 311 L359 300 L360 290 L379 290" stroke="#808080" stroke-width="1.4"/>
<path d="M383 324 L384 315 L382 303 L380 293 L387 289 L391 297 L390 311 L390.6 322" stroke="#808080" stroke-width="1.4"/>
<path d="M399 321 L398 307 L403 297 L405 289 L399 283 L393 277 L387 274 L380 263 L375 262 L363 264 L351 272 L349 279 L342 284 L341 291 L336 295 L326 295 L323 299 L325 307 L321 315 L322 322 L327 325 L328 333" stroke="#808080" stroke-width="1.4"/>
<path d="M405 289 L404 280 L409 273 L417 271 L427 275 L439 274 L451 275 L463 274 L471 271" stroke="#808080" stroke-width="1.4"/>
<path d="M479 279 L481 285 L471 297 L465 309 L459 317 L451 320 L443 325 L440 333" stroke="#808080" stroke-width="1.4"/>
<path d="M483 276 L485 291 L487 297 L479 299 L487 311 L493 313 L503 310 L519 303" stroke="#808080" stroke-width="1.4"/>
<path d="M487 311 L481 323 L485 337 L491 351 L508 349 L509 341 L519 331" stroke="#808080" stroke-width="1.4"/>
<path d="M444 351 L457 351 L471 351 L491 351" stroke="#808080" stroke-width="1.4"/>
<path d="M447 359 L457 358 L457 351" stroke="#808080" stroke-width="1.4"/>
<path d="M471 351 L477 357 L479 367 L475 369 L477 377 L473 382 L465 380 L460 383" stroke="#808080" stroke-width="1.4"/>
<path d="M508 349 L505 357 L503 363" stroke="#808080" stroke-width="1.4"/>
<path d="M379 262 L399 258 L407 251 L409 235 L401 234 L402 230" stroke="#808080" stroke-width="1.4"/>
<path d="M409 235 L419 232" stroke="#808080" stroke-width="1.4"/>
<path d="M471 271 L477 261 L486 249 L488 230" stroke="#808080" stroke-width="1.4"/>
<path d="M341 291 L360 290" stroke="#808080" stroke-width="1.4"/>
<path d="M310 259 L342 258 L339 230" stroke="#808080" stroke-width="1.4"/>
<path d="M310 280 L319 285 L323 295" stroke="#808080" stroke-width="1.4"/>
<path d="M463 385 L469 380 L477 377" stroke="#808080" stroke-width="1.4"/>
<path d="M465 407 L469 399 L479 397 L485 393 L490 387" stroke="#808080" stroke-width="1.4"/>
<path d="M582 389 L583.6 397 L585.4 407" stroke="#808080" stroke-width="1.4"/>
<path d="M545 230 L545 257 L537 259 L532 269 L534 277 L530 279 L538 289 L542 301 L550 311 L564 325 L568 330" stroke="#808080" stroke-width="1.4"/>
<path d="M517 302 L530 293 L538 289" stroke="#808080" stroke-width="1.4"/>
<path d="M542 301 L554 294 L564 300 L572 296 L578 300 L586 295 L598 297 L604 289 L601 284 L607 282 L608 291 L616 297 L614 305 L608 310 L613 313 L618 321 L624 327 L627 333.4" stroke="#808080" stroke-width="1.4"/>
<path d="M568 330 L558 329 L546 331 L536 336 L526 333 L517 331" stroke="#808080" stroke-width="1.4"/>
<path d="M568 330 L574 335 L584 334 L592 340 L606 340 L614 338 L620 335 L627 333.4" stroke="#808080" stroke-width="1.4"/>
<path d="M616 297 L622 287 L627 279 L629 269 L633 261 L634 251 L640 245" stroke="#808080" stroke-width="1.4"/>
<path d="M633 269 L642 264 L654 267 L662 272 L670 279 L673 285.4" stroke="#808080" stroke-width="1.4"/>
<path d="M638 340 L646 343 L656 337 L668 339 L678 333 L690 329 L710 311 L694 309 L684 305 L676 297 L673 290 L676 286" stroke="#808080" stroke-width="1.4"/>
<path d="M632.4 349 L638 340" stroke="#808080" stroke-width="1.4"/>
<path d="M668 339 L662 347 L662 369 L667 376" stroke="#808080" stroke-width="1.4"/>
<path d="M630 349 L626 355 L621 363 L617 369" stroke="#808080" stroke-width="1.4"/>
<path d="M614 338 L618 347 L620 355 L614 364 L607 364" stroke="#808080" stroke-width="1.4"/>
<path d="M592 340 L595 350 L586 359 L583 371 L582 379 L580 383 L584 385 L590 382 L592 375 L598 372" stroke="#808080" stroke-width="1.4"/>
<path d="M614 372 L630 381 L642 389 L650 397" stroke="#808080" stroke-width="1.4"/>
<path d="M590 382 L592 389 L586 397 L583 405" stroke="#808080" stroke-width="1.4"/>
<path d="M678 239 L688 245 L704 248 L710 243 L726 236" stroke="#808080" stroke-width="1.4"/>
<path d="M667 249 L670 251" stroke="#808080" stroke-width="1.4"/>
<path d="M747 279 L751 277.6 L755 279 L752 281 L747 279" stroke="#808080" stroke-width="1.4"/>
<path d="M739 281.4 L740.6 282" stroke="#808080" stroke-width="1.4"/>
<path d="M724 237 L739 234 L751 230" stroke="#808080" stroke-width="1.4"/>
<path d="M739 234 L746 250" stroke="#808080" stroke-width="1.4"/>
<path d="M884.9 318 L886.1 319.6" stroke="#808080" stroke-width="1.4"/>
<path d="M883.4 321 L884.6 322.6" stroke="#808080" stroke-width="1.4"/>
<path d="M884.7 325 L885.9 326.6" stroke="#808080" stroke-width="1.4"/>
<path d="M883.6 329 L884.8 330.6" stroke="#808080" stroke-width="1.4"/>
<path d="M884.9 333 L886.1 334.6" stroke="#808080" stroke-width="1.4"/>
<path d="M883.8 337 L885 338.6" stroke="#808080" stroke-width="1.4"/>
<path d="M883 342 L884.2 343.6" stroke="#808080" stroke-width="1.4"/>
<path d="M884.7 347 L885.9 348.6" stroke="#808080" stroke-width="1.4"/>
<path d="M883.5 351 L884.7 352.6" stroke="#808080" stroke-width="1.4"/>
<path d="M885.2 356 L886.4 357.6" stroke="#808080" stroke-width="1.4"/>
<path d="M884.7 362 L885.9 363.6" stroke="#808080" stroke-width="1.4"/>
<path d="M884.6 369 L885.8 370.6" stroke="#808080" stroke-width="1.4"/>
<path d="M761 396 L764 395 L762.6 398" stroke="#808080" stroke-width="1.4"/>
<path d="M465 407 L479 407 L491 406 L494 408 L497 416 L501 421 L511 420.4 L513 415 L519 414" stroke="#808080" stroke-width="1.4"/>
<path d="M461 485 L469 483 L475 486 L491 486 L507 486 L511 488.4 L519 488.4" stroke="#808080" stroke-width="1.4"/>
<path d="M492 561 L497 559 L500 563 L507 565 L519 562" stroke="#808080" stroke-width="1.4"/>
<path d="M517 414 L529 415 L531 426 L533 443 L544 442 L545 455 L532 456 L531 466 L532 477 L538 486 L550 487 L517 489" stroke="#808080" stroke-width="1.4"/>
<path d="M544 442 L554 445 L566 448 L570 446 L575 451 L582 451 L584 458 L580 459 L575 448 L576 430 L580 424 L592 425" stroke="#808080" stroke-width="1.4"/>
<path d="M594 426 L606 431 L611 434 L609 446 L606 454 L607 461 L612 466 L618 465 L626 468 L627 474 L624 482 L620 485 L616 476 L612 470 L606 464 L588 469" stroke="#808080" stroke-width="1.4"/>
<path d="M588 469 L589 475 L580 476 L570 486 L562 490 L550 487" stroke="#808080" stroke-width="1.4"/>
<path d="M589 475 L602 480 L607 486 L606 500 L602 512 L595 520 L580 519 L572 515 L568 506 L560 500 L554 490" stroke="#808080" stroke-width="1.4"/>
<path d="M580 519 L568 526 L564 533 L556 542 L548 544 L538 540 L532 546 L523 550 L517 538" stroke="#808080" stroke-width="1.4"/>
<path d="M595 520 L598 530 L600 542 L600 554" stroke="#808080" stroke-width="1.4"/>
<path d="M592 548 L595 544 L600 544 L605 546 L606 551 L600 554 L594 553 L592 548" stroke="#808080" stroke-width="1.4"/>
<path d="M566 570 L572 564 L578 563 L582.4 567 L578 573 L572 577 L567 574 L566 570" stroke="#808080" stroke-width="1.4"/>
<path d="M622 446 L638 445 L656 440" stroke="#808080" stroke-width="1.4"/>
<path d="M517 488 L523 492 L524 516 L517 517" stroke="#808080" stroke-width="1.4"/>
<path d="M678 445 L679.6 448" stroke="#808080" stroke-width="1.4"/>
<path d="M684 450 L687 451" stroke="#808080" stroke-width="1.4"/>
<path d="M690 453.6 L691.6 455" stroke="#808080" stroke-width="1.4"/>
<path d="M699 430.4 L700 432" stroke="#808080" stroke-width="1.4"/>
<path d="M761 509.6 L764 510 L764.6 513 L761.6 513 L761 509.6" stroke="#808080" stroke-width="1.4"/>
<path d="M775 504 L777.4 503.6 L778 506.4 L775.4 507 L775 504" stroke="#808080" stroke-width="1.4"/>
<path d="M312 159.6 L306 165 L299 170 L292 172 L287 176 L283 181 L279 186 L277 192 L274 196 L270 200 L267 205 L264 211 L262 216 L261.6 221 L264 223 L265.6 226 L266.4 232" stroke="#000" stroke-width="1.6"/>
<path d="M371.4 55 L370.6 62 L369 66 L361 65.6 L351 66 L339 64.4 L331 65 L324 64 L317 68 L315.4 71 L318 74 L317 78 L318 82 L317 86 L316 92 L314 97 L316 99 L318 103 L318 109.6 L327 109.6 L331 109 L337 114 L341 118 L346 116 L353 114 L359 113 L365 111 L371 108.4 L375 105 L377 101 L380 98 L380 93 L382 88 L385 85 L391 81 L397 77 L401 74 L400 70 L403 67.6 L409 66.4 L415 68 L423 69 L431 65 L439 60.4 L445 61 L449 64 L451 68 L455 72 L463 77 L471 82 L477 85 L483 89 L488 93 L491 97 L489 102 L487 103.6 L491 99 L495 95 L498 91 L494 89 L495 87 L501 88 L506 90.4 L504 86 L499 83 L491 80 L487 78 L481 75 L475 70 L469 65 L465 60 L464 55" stroke="#000" stroke-width="1.6"/>
<path d="M474 55 L479 59 L487 64 L495 69 L503 73 L509 75 L513 78 L516 82 L515 86 L519 90.4" stroke="#000" stroke-width="1.6"/>
<path d="M465 104 L471 102.4 L479 103 L485 104 L484 108 L481 111.6 L475 109 L469 107 L465 104" stroke="#000" stroke-width="1.6"/>
<path d="M439 80 L437 83 L436 86 L436.6 91 L437 96 L441 97 L444 94 L445 88 L446 83 L444 80 L439 80" stroke="#000" stroke-width="1.6"/>
<path d="M440 78.4 L439 74 L441 70.4 L444.6 69 L444.6 73 L443.4 77 L440 78.4" stroke="#000" stroke-width="1.6"/>
<path d="M341 118 L338 123 L335 128 L329 133 L322 136 L317 140 L313.4 146 L312 152 L311 156 L310 160.4" stroke="#000" stroke-width="1.6"/>
<path d="M341 118 L346 121 L352 121.6 L359 122 L360 123 L366 123 L371 121 L377 118 L383 115.6 L391 114 L399 112.6 L407 111.6 L415 111 L423 110.4 L431 111 L439 109.6 L447 109 L451 110 L455 110.4 L452 114 L454 118 L455 123 L452 125 L449 129 L449 131.6 L455 133 L459 136 L467 138 L475 139.6 L481 141 L485 144 L489 148 L495 151 L503 153.6 L509 155.6 L513 156 L517 154 L519 149.6" stroke="#000" stroke-width="1.6"/>
<path d="M517 142.4 L524 139.6 L530 138 L536 139.6 L540 143.6 L548 145 L554 147.6 L562 148.4 L570 150 L578 152.4 L582 153 L588 150 L594 148.4 L598 149 L602 150 L607 151 L612 150 L616 148 L619 144 L622 140 L624 135 L626 130 L627 124 L626 118 L627 114 L629 112 L627 113 L622 113 L618 114 L612 116 L606 117 L600 115 L595 112 L591 112.4 L588 116 L582 115.6 L578 113 L574 112 L570 111 L568 108 L566 104 L565 99 L563 96 L561 93 L562 89 L565 86 L570 84 L578 83 L585 84 L578 86 L572 87 L566 88" stroke="#000" stroke-width="1.6"/>
<path d="M579 55 L577 60 L576 66 L571 70 L569 73 L572 78 L578 81 L586 82 L594 81 L602 77 L610 76 L620 76 L626 79 L634 81.6 L642 83 L652 83 L660 82 L666 79 L667.6 75 L665 70 L660 67 L654 64 L648 61 L642 58 L638 55" stroke="#000" stroke-width="1.6"/>
<path d="M609 55 L612 59 L617 59 L621 57 L623 55" stroke="#000" stroke-width="1.6"/>
<path d="M517 91.6 L522 96 L526 99 L525 103 L530 106 L533 112 L537 115 L540 113 L538 108 L544 107 L546 104 L541 101 L536 99 L538 96 L542 95 L540 92 L537 89 L536 86 L542 85 L548 86 L544 89 L548 91 L553 88 L558 86 L561 86" stroke="#000" stroke-width="1.6"/>
<path d="M541 121 L546 120 L554 121.6 L561 122.4 L560 124.4 L552 125 L544 124 L541 121" stroke="#000" stroke-width="1.6"/>
<path d="M602 125 L608 122 L614 120.4 L618 119.6 L615 123 L611 126 L605 127 L602 125" stroke="#000" stroke-width="1.6"/>
<path d="M602 150 L603 156 L604 161 L607 166 L611 171 L614 174 L616 173 L618 168 L620 163 L621 160" stroke="#000" stroke-width="1.6"/>
<path d="M611 171 L612 176 L616 184 L620 192 L624 199 L626 204 L625 208 L629 212 L633 216 L635 222 L636 232" stroke="#000" stroke-width="1.6"/>
<path d="M616 173 L620 174 L624 178 L628 184 L632 189 L635 194 L640 199 L645 205 L648 210 L649 216 L651 222 L656 227 L659 232" stroke="#000" stroke-width="1.6"/>
<path d="M683 130.4 L684 134.4 L688 138.4 L694 140.4 L699 142 L702 144.4" stroke="#000" stroke-width="1.6"/>
<path d="M709 156 L713 157 L718 155.6 L716 159 L711 160 L713 165 L715 171 L719 176 L723 180 L726 182.4" stroke="#000" stroke-width="1.6"/>
<path d="M718 155.6 L726 158.8" stroke="#000" stroke-width="1.6"/>
<path d="M701 55 L706 64 L710 72 L716 79 L722 84 L726 86" stroke="#000" stroke-width="1.6"/>
<path d="M726 88 L718 91 L715 98 L718 105 L726 108" stroke="#000" stroke-width="1.6"/>
<path d="M724 56.6 L729 59 L734 66 L740 69.6 L743.4 73 L742.6 77 L745 80 L744 86 L746 90 L750 95 L751 103 L752 111.6 L745 113 L737 113.6 L730 111.6 L724 108" stroke="#000" stroke-width="1.6"/>
<path d="M744 76 L750 74.6 L756 78 L757 82 L753 85 L747 86" stroke="#000" stroke-width="1.6"/>
<path d="M781 55 L782 62 L785 64.4 L793 65.6 L799 64 L802 60 L806 55" stroke="#000" stroke-width="1.6"/>
<path d="M905 72.4 L912 70.4 L919.4 71.6 L914 75 L907 74.4 L905 72.4" stroke="#000" stroke-width="1.6"/>
<path d="M724 159.6 L729 165 L734 171 L739 176 L745 180 L751 182.4 L758 181.6 L765 179 L770 178.4 L773 182 L774 186 L779 188 L787 189 L795 190.4 L803 192 L813 191.6 L825 190.4 L837 189.6 L840 194 L843 198 L847 200.4 L853 202 L846 200.4 L853 205 L859 209 L865 208 L863 210 L856 212 L859 216 L865 221 L873 222 L878 216 L879 212 L881 216 L882 224 L881 232" stroke="#000" stroke-width="1.6"/>
<path d="M859 170.4 L853 173 L849 177 L848.6 183 L850.6 188 L848 194 L846 198.4" stroke="#000" stroke-width="1.6"/>
<path d="M724 180.4 L728 186 L730 184 L733 187 L734 193 L731 196 L735 199 L743 199 L751 198 L757 195 L763 190 L767 185 L768 184 L769 192 L773 198 L779 203 L787 208 L792 211 L791 216 L787 220 L784 224 L781 228 L777.4 232" stroke="#000" stroke-width="1.6"/>
<path d="M265.6 230 L267 235 L268.4 241 L268 247 L265.6 252 L263 257 L261 261 L258.4 264 L261 266 L263 270 L266 273 L264 277 L265 280 L269 283 L272 285 L275 289 L280 292 L284 297 L287 302 L289 308 L292 312 L297 316 L302 320 L308 324 L312 326" stroke="#000" stroke-width="1.6"/>
<path d="M265.6 252 L270 251 L276 250.6 L282 253 L287 256 L291 261" stroke="#000" stroke-width="1.6"/>
<path d="M103 385 L110 389 L118 395 L124 400 L130 401 L135 402.6 L137 407" stroke="#000" stroke-width="1.6"/>
<path d="M310 326.6 L315 330 L321 333 L327 335 L333 333 L339 331 L347 329.4 L355 330 L361 331 L365 332.6 L371 330 L377 327 L383 324.6 L391 322.6 L399 321.4 L405 321 L410 322.6 L414 325 L416 329 L418 333 L421 335 L427 334.6 L433 334 L439 333.4 L442 336 L445 338 L448 340 L448 346 L447 351 L445 356 L444 361 L446 364 L441 369 L440 372 L443 377 L449 384 L455 391 L460 398 L464 407" stroke="#000" stroke-width="1.6"/>
<path d="M519 352 L511 354 L506 358 L504 364 L501 370 L496 375 L492 380 L490.6 386" stroke="#000" stroke-width="1.6"/>
<path d="M315 289 L319 284.6 L326 278" stroke="#000" stroke-width="1.6"/>
<path d="M330 274 L339 270 L348 267.4" stroke="#000" stroke-width="1.6"/>
<path d="M353 255 L361 251 L371 248.6 L377 249.4 L381 256" stroke="#000" stroke-width="1.6"/>
<path d="M384 261 L386 265" stroke="#000" stroke-width="1.6"/>
<path d="M411 301 L420 305 L425 308 L426 315 L425 322 L425 327" stroke="#000" stroke-width="1.6"/>
<path d="M426 310 L435 311 L441 312 L449 308" stroke="#000" stroke-width="1.6"/>
<path d="M368 305.4 L373 306.6 L371 310 L377 311 L374 314 L380 315 L375 318 L380 320 L380 323 L381 311 L380 304" stroke="#000" stroke-width="1.6"/>
<path d="M471 270 L474 269 L477 274 L483 276 L479 279 L475 278 L472 274 L471 270" stroke="#000" stroke-width="1.6"/>
<path d="M636 230 L640 237 L646 245 L651 253 L655 259 L660 263 L666 268 L672 274 L676 279 L679 283.4 L676 286 L673 285.4" stroke="#000" stroke-width="1.6"/>
<path d="M679 283.4 L684 289 L690 293 L698 291 L706 289 L714 286.6 L726 284.6" stroke="#000" stroke-width="1.6"/>
<path d="M661 230 L666 239 L672 249 L675 257 L676 265 L678 273 L680 278 L688 278 L698 274 L708 270 L718 266 L726 263" stroke="#000" stroke-width="1.6"/>
<path d="M725 308.6 L720 319 L714 328 L708 335 L698 345 L690 353 L682 360 L674 368 L668 375 L663 380 L659 387 L655 393 L651 399 L648 407" stroke="#000" stroke-width="1.6"/>
<path d="M599 369 L602 366 L607 364 L612 365 L616 367.4 L619 367 L617 369 L613.6 371 L614 375 L612 379 L609 381 L606 384 L603 382 L599 384 L597.6 379 L598.4 374 L599 369" stroke="#000" stroke-width="1.6"/>
<path d="M580.4 389 L581.6 395 L582.4 401 L584 407" stroke="#000" stroke-width="1.6"/>
<path d="M627 333.4 L629 334 L629.6 340 L631 346 L632.4 349 L630 348 L628 343 L627 337 L627 333.4" stroke="#000" stroke-width="1.6"/>
<path d="M517 351 L526 350 L536 351 L542 356 L548 360.6" stroke="#000" stroke-width="1.6"/>
<path d="M724 263.4 L731 261 L737 257 L741 253 L749 250 L757 248 L761 245 L765 242 L771 240 L773 235 L778 233 L777.4 230" stroke="#000" stroke-width="1.6"/>
<path d="M724 284.6 L729 283.4 L733 284.6 L732.6 290 L733.4 294 L731 299 L728 304 L725 308.6" stroke="#000" stroke-width="1.6"/>
<path d="M881 230 L883 239 L885 249 L889 259 L894 269 L897 279 L901 287 L904 295 L907 302 L910 307 L914 309.4 L918 308.6 L918.6 305.4 L923 302 L925 300" stroke="#000" stroke-width="1.6"/>
<path d="M933 282 L930 284 L929 289 L930 295 L929 303 L929.4 311 L931 319 L933 322" stroke="#000" stroke-width="1.6"/>
<path d="M136 405 L139 412 L139.6 418 L138 424 L134 430 L128 436 L122 443 L117 449 L113 454 L111 459 L110 466 L111 474 L109 482 L107 490 L105 496 L103 502.4" stroke="#000" stroke-width="1.6"/>
<path d="M464 405 L466 410 L469 416 L471 423 L470 427 L473 434 L474.6 443 L472 451 L467 457 L464 464 L461 474 L460 484 L461 491 L466 498 L471 506 L475 514 L479 523 L479 530 L481 538 L483.4 546 L486 553 L491 560 L495 568 L499 576 L501 582" stroke="#000" stroke-width="1.6"/>
<path d="M648 405 L650 412 L651.6 418 L654 426 L657 432 L659 440 L658 448 L659 456 L660.4 464 L660 468 L657 473 L652 478 L646 482 L638 485 L633 489 L629 494 L624 498 L619 502 L618 506 L620 510 L623 515 L624 522 L623 530 L620 534 L614 537 L609 540 L604 544 L605.6 550 L604 558 L600 564 L596 570 L591 576 L587 582" stroke="#000" stroke-width="1.6"/>
<path d="M718 449 L720 451 L723 456 L724 461 L722 472 L723 474 L724 482 L720 492 L716 502 L713 512 L709 522 L706 531 L704 537 L698 540.4 L692 542 L687 540.4 L683 536 L680 530 L678 524 L677.6 518 L680 512 L683 507 L685 500 L684 492 L683 485 L685 478 L692 476 L699 474 L704 470 L708 464 L711 459 L715 457 L716 452 L718 449" stroke="#000" stroke-width="1.6"/>
<path d="M614 432 L616 431.6 L618 436 L619 443 L620 450 L621 457 L622 464 L620 463.6 L618 458 L616.4 451 L615.6 444 L614.4 438 L614 432" stroke="#000" stroke-width="1.6"/>
<path d="M581.6 405 L585 411 L588 418 L591.6 425 L594 426 L592 420 L589 413 L586 407 L585 405" stroke="#000" stroke-width="1.6"/>
<path d="M615.6 481 L620 484 L623.6 489.6" stroke="#000" stroke-width="1.6"/>
<path d="M724 459 L726.6 462 L728 468 L727 474 L724 476" stroke="#000" stroke-width="1.6"/>
<path d="M501 580 L504 585 L503 591 L506 596 L508 601 L513 604 L517 606 L519 605.4" stroke="#000" stroke-width="1.6"/>
<path d="M517 605.4 L524 602.6 L532 600.6 L540 601 L548 600 L550 601 L558 598.6 L566 596 L574 590 L582 584 L587 580" stroke="#000" stroke-width="1.6"/>
</g>
<text x="543" y="29" font-size="21.3" text-anchor="middle" textLength="684" lengthAdjust="spacingAndGlyphs">Difference from average outgoing longwave radiation forecast for</text>
<text x="543" y="51.5" font-size="21.3" text-anchor="middle" textLength="337" lengthAdjust="spacingAndGlyphs">27 October to 9 November 2025</text>
<text x="95.5" y="95" font-size="14.5" text-anchor="end" textLength="35" lengthAdjust="spacingAndGlyphs">40°N</text>
<text x="95.5" y="233" font-size="14.5" text-anchor="end" textLength="35" lengthAdjust="spacingAndGlyphs">20°N</text>
<text x="95.5" y="509" font-size="14.5" text-anchor="end" textLength="35" lengthAdjust="spacingAndGlyphs">20°S</text>
<text x="95.5" y="647" font-size="14.5" text-anchor="end" textLength="35" lengthAdjust="spacingAndGlyphs">40°S</text>
<text x="95.5" y="371" font-size="14.5" text-anchor="end" textLength="15" lengthAdjust="spacingAndGlyphs">0°</text>
<text x="241.5" y="697" font-size="14.5" text-anchor="middle" textLength="38" lengthAdjust="spacingAndGlyphs">20°W</text>
<text x="379.5" y="697" font-size="14.5" text-anchor="middle" textLength="15" lengthAdjust="spacingAndGlyphs">0°</text>
<text x="517.5" y="697" font-size="14.5" text-anchor="middle" textLength="35" lengthAdjust="spacingAndGlyphs">20°E</text>
<text x="655.5" y="697" font-size="14.5" text-anchor="middle" textLength="35" lengthAdjust="spacingAndGlyphs">40°E</text>
<text x="793.5" y="697" font-size="14.5" text-anchor="middle" textLength="35" lengthAdjust="spacingAndGlyphs">60°E</text>
<g stroke="#000" stroke-width="1">
<path d="M207.5 727 L250 711.7 L250 741.5 Z" fill="#2d004b"/>
<rect x="250" y="711.7" width="59.5" height="29.8" fill="#542788" stroke="none"/>
<rect x="309.5" y="711.7" width="59.5" height="29.8" fill="#8073ac" stroke="none"/>
<rect x="369" y="711.7" width="59.5" height="29.8" fill="#b2abd2" stroke="none"/>
<rect x="428.5" y="711.7" width="59.5" height="29.8" fill="#d8daeb" stroke="none"/>
<rect x="488" y="711.7" width="59.5" height="29.8" fill="#ffffff" stroke="none"/>
<rect x="547.5" y="711.7" width="59.5" height="29.8" fill="#fee0b6" stroke="none"/>
<rect x="607" y="711.7" width="59.5" height="29.8" fill="#fdb863" stroke="none"/>
<rect x="666.5" y="711.7" width="59.5" height="29.8" fill="#e08214" stroke="none"/>
<rect x="726" y="711.7" width="59.5" height="29.8" fill="#b35806" stroke="none"/>
<path d="M785.5 711.7 L828 727 L785.5 741.5 Z" fill="#7f3b08"/>
<line x1="250" y1="711.7" x2="250" y2="741.5" stroke-width="0.9"/>
<line x1="309.5" y1="711.7" x2="309.5" y2="741.5" stroke-width="0.9"/>
<line x1="369" y1="711.7" x2="369" y2="741.5" stroke-width="0.9"/>
<line x1="428.5" y1="711.7" x2="428.5" y2="741.5" stroke-width="0.9"/>
<line x1="488" y1="711.7" x2="488" y2="741.5" stroke-width="0.9"/>
<line x1="547.5" y1="711.7" x2="547.5" y2="741.5" stroke-width="0.9"/>
<line x1="607" y1="711.7" x2="607" y2="741.5" stroke-width="0.9"/>
<line x1="666.5" y1="711.7" x2="666.5" y2="741.5" stroke-width="0.9"/>
<line x1="726" y1="711.7" x2="726" y2="741.5" stroke-width="0.9"/>
<line x1="785.5" y1="711.7" x2="785.5" y2="741.5" stroke-width="0.9"/>
<path d="M250 711.7 L785.5 711.7 M250 741.5 L785.5 741.5" fill="none"/>
</g>
<text x="250" y="760" font-size="17" text-anchor="middle">-25</text>
<text x="309.5" y="760" font-size="17" text-anchor="middle">-15</text>
<text x="369" y="760" font-size="17" text-anchor="middle">-10</text>
<text x="428.5" y="760" font-size="17" text-anchor="middle">-5</text>
<text x="488" y="760" font-size="17" text-anchor="middle">-2</text>
<text x="547.5" y="760" font-size="17" text-anchor="middle">2</text>
<text x="607" y="760" font-size="17" text-anchor="middle">5</text>
<text x="666.5" y="760" font-size="17" text-anchor="middle">10</text>
<text x="726" y="760" font-size="17" text-anchor="middle">15</text>
<text x="785.5" y="760" font-size="17" text-anchor="middle">25</text>
<text x="517.5" y="786" font-size="18.5" text-anchor="middle" textLength="299" lengthAdjust="spacingAndGlyphs">Difference from average (W/m2)</text>
<text x="11" y="822" font-size="14" text-anchor="start" textLength="175" lengthAdjust="spacingAndGlyphs">www.bom.gov.au/climate</text>
<text x="11" y="843" font-size="14" text-anchor="start" textLength="489" lengthAdjust="spacingAndGlyphs">© Commonwealth of Australia 2025, Australian Bureau of Meteorology</text>
<text x="673" y="822" font-size="12.3" text-anchor="start" textLength="106" lengthAdjust="spacingAndGlyphs">Model: ACCESS-S2</text>
<text x="673" y="843" font-size="12.3" text-anchor="start" textLength="139" lengthAdjust="spacingAndGlyphs">Base period: 1981-2018</text>
<text x="1025" y="822" font-size="12.3" text-anchor="end" textLength="131" lengthAdjust="spacingAndGlyphs">Model run: 20/10/2025</text>
<text x="1025" y="843" font-size="12.3" text-anchor="end" textLength="111" lengthAdjust="spacingAndGlyphs">Issued: 22/10/2025</text>
<text x="1025" y="865" font-size="12.3" text-anchor="end" textLength="256" lengthAdjust="spacingAndGlyphs">Boundaries are not considered authoritative</text>
</svg></body></html>
